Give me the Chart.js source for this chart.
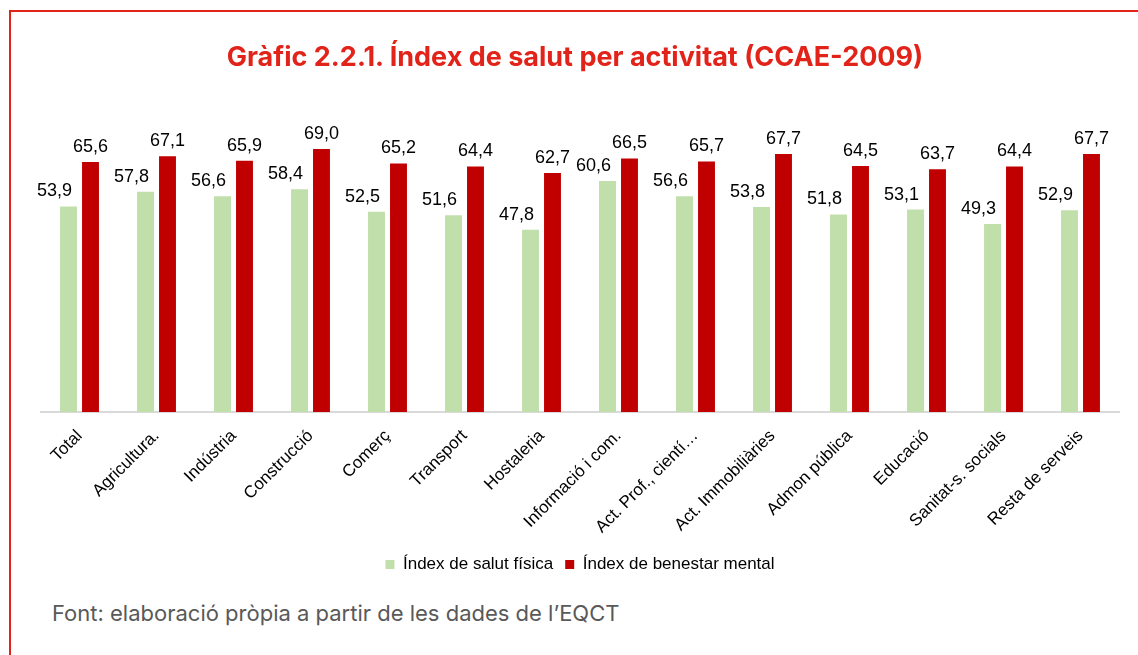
<!DOCTYPE html>
<html>
<head>
<meta charset="utf-8">
<script src="https://cdn.jsdelivr.net/npm/chart.js@4"></script>
<style>
  html, body { margin: 0; padding: 0; background: #fff; }
  #wrap { position: relative; width: 1138px; height: 655px; overflow: hidden; }
  #frame { position: absolute; left: 9px; top: 10px; width: 1200px; height: 700px; border: 2px solid #e2231a; box-sizing: border-box; }
  #title { position: absolute; left: 0; top: 40px; width: 1150px; text-align: center; color: #e2231a; font: bold 27px Inter, sans-serif; }
  #foot { position: absolute; left: 52px; top: 600px; color: #595959; font: 22px Inter, sans-serif; }
  #c { position: absolute; left: 0; top: 0; }
</style>
</head>
<body>
<div id="wrap">
  <div id="frame"></div>
  <canvas id="c" width="1138" height="600"></canvas>
  <div id="title">Gràfic 2.2.1. Índex de salut per activitat (CCAE-2009)</div>
  <div id="foot">Font: elaboració pròpia a partir de les dades de l’EQCT</div>
</div>
<script>
const categories = ['Total', 'Agricultura.', 'Indústria', 'Construcció', 'Comerç', 'Transport', 'Hostaleria',
    'Informació i com.', 'Act. Prof., cientí…', 'Act. Immobiliàries', 'Admon pública', 'Educació',
    'Sanitat-s. socials', 'Resta de serveis'];
const salutFisica = [53.9, 57.8, 56.6, 58.4, 52.5, 51.6, 47.8, 60.6, 56.6, 53.8, 51.8, 53.1, 49.3, 52.9];
const benestarMental = [65.6, 67.1, 65.9, 69.0, 65.2, 64.4, 62.7, 66.5, 65.7, 67.7, 64.5, 63.7, 64.4, 67.7];

// draws the value above each bar, with a decimal comma
const valueLabels = {
    id: 'valueLabels',
    afterDatasetsDraw(chart) {
        const ctx = chart.ctx;
        ctx.save();
        ctx.fillStyle = '#000';
        ctx.font = '18px "Liberation Sans", Arial, sans-serif';
        ctx.textAlign = 'center';
        ctx.textBaseline = 'bottom';
        chart.data.datasets.forEach((ds, di) => {
            const meta = chart.getDatasetMeta(di);
            meta.data.forEach((bar, i) => {
                const txt = ds.data[i].toFixed(1).replace('.', ',');
                const dx = di === 0 ? -14 : 0;
                ctx.fillText(txt, bar.x + dx, bar.y - 6);
            });
        });
        ctx.restore();
    }
};

const ctx = document.getElementById('c').getContext('2d');
new Chart(ctx, {
    type: 'bar',
    data: {
        labels: categories,
        datasets: [
            {
                label: 'Índex de salut física',
                data: salutFisica,
                backgroundColor: '#c1dfab',
                categoryPercentage: 0.571,
                barPercentage: 0.77
            },
            {
                label: 'Índex de benestar mental',
                data: benestarMental,
                backgroundColor: '#c00000',
                categoryPercentage: 0.571,
                barPercentage: 0.77
            }
        ]
    },
    options: {
        responsive: false,
        animation: false,
        layout: { padding: { left: 41, right: 19, top: 107, bottom: 17 } },
        plugins: {
            legend: {
                position: 'bottom',
                labels: {
                    boxWidth: 9,
                    boxHeight: 9,
                    padding: 12,
                    color: '#000',
                    font: { family: '"Liberation Sans", Arial, sans-serif', size: 17 }
                }
            },
            tooltip: { enabled: false }
        },
        scales: {
            x: {
                grid: { display: false },
                border: { color: '#d9d9d9', width: 2 },
                ticks: {
                    color: '#000',
                    minRotation: 45,
                    maxRotation: 45,
                    padding: 6,
                    font: { family: '"Liberation Sans", Arial, sans-serif', size: 17 }
                },
                afterFit(scale) { scale.height = 132; }
            },
            y: {
                display: false,
                min: 0,
                max: 80
            }
        }
    },
    plugins: [valueLabels]
});
</script>
</body>
</html>
